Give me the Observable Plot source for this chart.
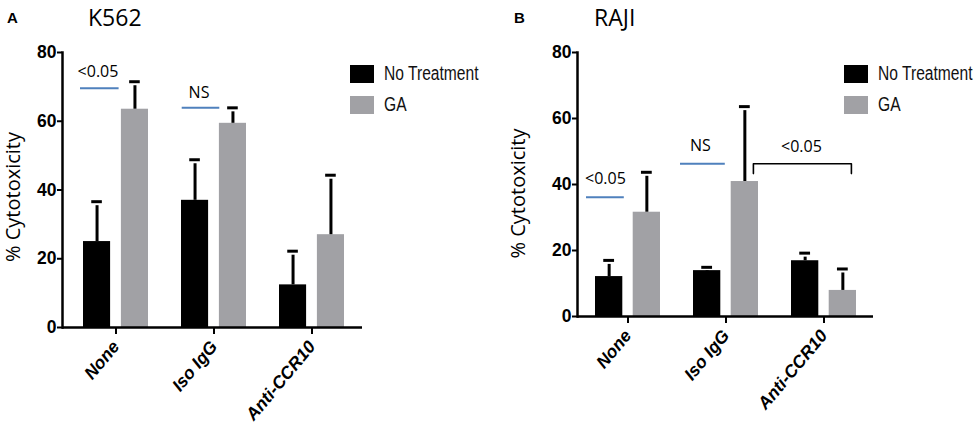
<!DOCTYPE html>
<html>
<head>
<meta charset="utf-8">
<script src="https://cdn.jsdelivr.net/npm/d3@7"></script>
<script src="https://cdn.jsdelivr.net/npm/@observablehq/plot@0.6"></script>
<style>
  html, body { margin: 0; padding: 0; background: #fff; }
  #wrap { position: relative; width: 975px; height: 434px; overflow: hidden; background: #fff; font-family: "Open Sans", "Liberation Sans", sans-serif; }
  .panel { position: absolute; top: 0; }
  .letter { position: absolute; font: bold 15px "Liberation Sans", Arial, sans-serif; }
  .title { position: absolute; font: 23px "Open Sans", "Liberation Sans", sans-serif; line-height: 1; }
  .legend { position: absolute; font-family: "Liberation Sans", Arial, sans-serif; font-size: 20px; color: #111; }
  .legend .row { position: absolute; left: 0; display: flex; align-items: center; white-space: nowrap; }
  .legend .sw { width: 24px; height: 18px; margin-right: 10px; flex: none; }
  .legend .lab { display: inline-block; transform: scaleX(0.78); transform-origin: left center; }
</style>
</head>
<body>
<div id="wrap">
  <div class="letter" style="left:7px; top:9px;">A</div>
  <div class="title" style="left:88px; top:6px;">K562</div>
  <div class="letter" style="left:514px; top:9px;">B</div>
  <div class="title" style="left:594px; top:6px;">RAJI</div>
  <div id="panelA" class="panel" style="left:0px;"></div>
  <div id="panelB" class="panel" style="left:487px;"></div>
  <div id="legA" class="legend" style="left:350px; top:62px;"></div>
  <div id="legB" class="legend" style="left:844px; top:62px;"></div>
</div>
<script>
// ---------- data ----------
const categories = ["None", "Iso IgG", "Anti-CCR10"];
const seriesNames = ["No Treatment", "GA"];
const yTicks = [0, 20, 40, 60, 80];

// K562 (panel A)
const k562NoTreatment = [25.0, 37.0, 12.4];
const k562NoTreatmentErr = [11.6, 11.8, 9.8];
const k562GA = [63.5, 59.4, 27.0];
const k562GAErr = [8.0, 4.5, 17.3];
const k562SigCats = ["None", "Iso IgG"];
const k562SigY = [69.6, 63.9];
const k562SigLabels = ["<0.05", "NS"];

// RAJI (panel B)
const rajiNoTreatment = [12.1, 13.9, 16.9];
const rajiNoTreatmentErr = [4.9, 1.0, 2.3];
const rajiGA = [31.6, 40.9, 7.9];
const rajiGAErr = [12.1, 22.7, 6.5];
const rajiSigCats = ["None", "Iso IgG"];
const rajiSigY = [36.15, 46.3];
const rajiSigLabels = ["<0.05", "NS"];
const rajiBracketCats = ["Iso IgG", "Anti-CCR10"];
const rajiBracketY = 46.3;
const rajiBracketLegY = 43.3;
const rajiBracketLabel = "<0.05";

const yLabel = "% Cytotoxicity";

// ---------- styles ----------
const BLACK = "#000000";
const GRAY = "#a1a1a5";
const BLUE = "#4f81bd";
const SANS = "'Liberation Sans', Arial, sans-serif";
const OPEN = "'Open Sans', 'Liberation Sans', sans-serif";

function rows(vals, errs) {
  return categories.map((c, i) => ({cat: c, v: vals[i], top: vals[i] + errs[i]}));
}

function panel(cfg) {
  const nt = rows(cfg.nt, cfg.ntErr);
  const ga = rows(cfg.ga, cfg.gaErr);
  const bw = cfg.bw;            // band width
  const barW = 27.5;
  const inner = bw - barW;
  const off = bw / 2 - barW / 2; // center offset of each bar from band center
  const marks = [
    Plot.barY(nt, {x: "cat", y: "v", fill: BLACK, insetRight: inner}),
    Plot.barY(ga, {x: "cat", y: "v", fill: GRAY, insetLeft: inner}),
    Plot.ruleX(nt, {x: "cat", y1: "v", y2: "top", dx: -off, stroke: BLACK, strokeWidth: 3, insetBottom: -4}),
    Plot.ruleX(ga, {x: "cat", y1: "v", y2: "top", dx: off, stroke: BLACK, strokeWidth: 3, insetBottom: -4}),
    Plot.tickY(nt, {x: "cat", y: "top", stroke: BLACK, strokeWidth: 3, insetLeft: barW / 2 - 5.5, insetRight: bw - barW / 2 - 5.5}),
    Plot.tickY(ga, {x: "cat", y: "top", stroke: BLACK, strokeWidth: 3, insetLeft: bw - barW / 2 - 5.5, insetRight: barW / 2 - 5.5}),
    Plot.ruleY([0], {stroke: BLACK, strokeWidth: 2.5}),
    Plot.frame({anchor: "left", stroke: BLACK, strokeWidth: 2.5}),
    Plot.axisY({ticks: yTicks, tickSize: 5, tickPadding: 1, strokeWidth: 2, fontSize: 17.5, fontWeight: "bold", fontFamily: SANS, label: null}),
    Plot.axisX({tickSize: 7, tickPadding: 9, tickRotate: -50, strokeWidth: 2, fontSize: 17.5, fontWeight: "bold", fontStyle: "italic", fontFamily: SANS, label: null}),
    Plot.text([yLabel], {text: d => d, frameAnchor: "left", textAnchor: "middle", rotate: -90, dx: cfg.labelDx, dy: cfg.labelDy, fontSize: 20, fontFamily: OPEN})
  ];
  cfg.sigCats.forEach((c, i) => {
    const st = cfg.sigStyle[i];
    const d = [{cat: c, y: cfg.sigY[i], label: cfg.sigLabels[i]}];
    marks.push(Plot.tickY(d, {x: "cat", y: "y", stroke: BLUE, strokeWidth: 2, insetLeft: st.insetLeft, insetRight: st.insetRight}));
    marks.push(Plot.text(d, {x: "cat", y: "y", text: "label", dx: st.dx, dy: st.dy, fontSize: 16, fontFamily: OPEN}));
  });
  if (cfg.bracketCats) {
    const pts = [
      {cat: cfg.bracketCats[0], y: cfg.bracketLegY},
      {cat: cfg.bracketCats[0], y: cfg.bracketY},
      {cat: cfg.bracketCats[1], y: cfg.bracketY},
      {cat: cfg.bracketCats[1], y: cfg.bracketLegY}
    ];
    marks.push(Plot.line(pts, {x: "cat", y: "y", dx: cfg.bracketDx, stroke: BLACK, strokeWidth: 1.6}));
    marks.push(Plot.text([{cat: cfg.bracketCats[1], y: cfg.bracketY, label: cfg.bracketLabel}],
      {x: "cat", y: "y", text: "label", dx: cfg.bracketTextDx, dy: -17, fontSize: 16, fontFamily: OPEN}));
  }
  return Plot.plot({
    width: cfg.width,
    height: 434,
    marginLeft: cfg.marginLeft,
    marginRight: cfg.marginRight,
    marginTop: 52,
    marginBottom: cfg.marginBottom,
    style: {background: "transparent", color: "#000", overflow: "visible"},
    x: {domain: categories, range: cfg.xRange, paddingInner: 0.335, paddingOuter: 0.2, axis: null},
    y: {domain: [0, 80], axis: null},
    marks
  });
}

const A = panel({
  width: 487, marginLeft: 62, marginRight: 125, marginBottom: 107,
  xRange: [63.3, 364.6], bw: 65.4,
  nt: k562NoTreatment, ntErr: k562NoTreatmentErr, ga: k562GA, gaErr: k562GAErr,
  sigCats: k562SigCats, sigY: k562SigY, sigLabels: k562SigLabels,
  sigStyle: [
    {insetLeft: -3, insetRight: 29.4, dx: -18, dy: -16},
    {insetLeft: 0.7, insetRight: 26.7, dx: -15, dy: -15}
  ],
  labelDx: -49, labelDy: 7
});
document.getElementById("panelA").appendChild(A);

const B = panel({
  width: 488, marginLeft: 90, marginRight: 102, marginBottom: 118,
  xRange: [88.4, 388.8], bw: 65.2,
  nt: rajiNoTreatment, ntErr: rajiNoTreatmentErr, ga: rajiGA, gaErr: rajiGAErr,
  sigCats: rajiSigCats, sigY: rajiSigY, sigLabels: rajiSigLabels,
  sigStyle: [
    {insetLeft: -9, insetRight: 36.2, dx: -22.6, dy: -18.5},
    {insetLeft: -13, insetRight: 33.2, dx: -25.6, dy: -18}
  ],
  bracketCats: rajiBracketCats, bracketY: rajiBracketY, bracketLegY: rajiBracketLegY,
  bracketLabel: rajiBracketLabel, bracketDx: 27.4, bracketTextDx: -22.6,
  labelDx: -59, labelDy: 9
});
document.getElementById("panelB").appendChild(B);

// legends
function legend(id) {
  const el = document.getElementById(id);
  const colors = [BLACK, GRAY];
  seriesNames.forEach((s, i) => {
    const r = document.createElement("div");
    r.className = "row";
    r.style.top = (i * 31) + "px";
    r.innerHTML = `<div class="sw" style="background:${colors[i]}"></div><span class="lab">${s}</span>`;
    el.appendChild(r);
  });
}
legend("legA");
legend("legB");
</script>
</body>
</html>
